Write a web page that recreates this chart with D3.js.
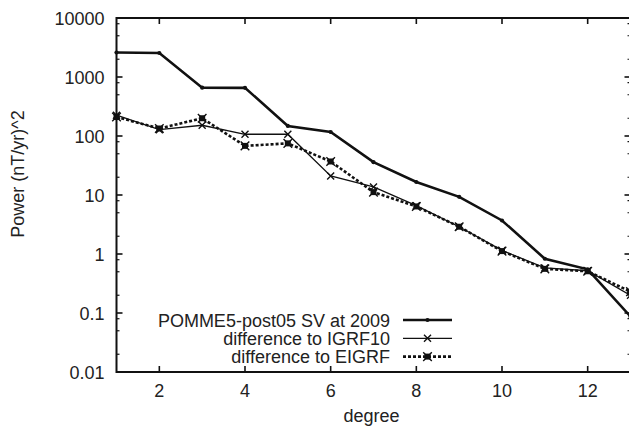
<!DOCTYPE html>
<html>
<head>
<meta charset="utf-8">
<script src="https://cdn.jsdelivr.net/npm/d3@7"></script>
<style>
  body { margin: 0; background: #fff; }
  svg { display: block; font-family: "Liberation Sans", Arial, Helvetica, sans-serif; }
</style>
</head>
<body>
<svg id="chart" width="629" height="427"></svg>
<script>
const degrees = [1, 2, 3, 4, 5, 6, 7, 8, 9, 10, 11, 12, 13];
const pommeSV = [2600, 2550, 660, 655, 148, 117, 36, 16.6, 9.3, 3.7, 0.83, 0.55, 0.087];
const diffIGRF10 = [225, 128, 152, 107, 107, 21, 13.7, 6.6, 2.9, 1.15, 0.58, 0.52, 0.2];
const diffEIGRF = [210, 134, 200, 68, 75, 37, 11.2, 6.4, 2.9, 1.12, 0.56, 0.51, 0.23];
const xTicks = [2, 4, 6, 8, 10, 12];
const yTicks = [0.01, 0.1, 1, 10, 100, 1000, 10000];
const yTickLabels = ["0.01", "0.1", "1", "10", "100", "1000", "10000"];
const seriesNames = ["POMME5-post05 SV at 2009", "difference to IGRF10", "difference to EIGRF"];

const svg = d3.select("#chart");
const mLeft = 116.5, mRight = 630.5, mTop = 18, mBottom = 372;
const fs = 18;

const x = d3.scaleLinear().domain([1, 13]).range([mLeft, mRight]);
const y = d3.scaleLog().domain([0.01, 10000]).range([mBottom, mTop]);

const series = [
  { name: seriesNames[0], values: pommeSV,    width: 2.6, dash: null,  marker: "dot" },
  { name: seriesNames[1], values: diffIGRF10, width: 1.3, dash: null,  marker: "cross" },
  { name: seriesNames[2], values: diffEIGRF,  width: 2.6, dash: "3,2", marker: "box" }
];

// minor ticks on log axis
const minor = [];
for (let e = -2; e < 4; e++) for (const m of [2, 5, 8]) minor.push(m * Math.pow(10, e));

const g = svg.append("g");
minor.forEach(v => {
  g.append("line").attr("x1", mLeft).attr("x2", mLeft + 3).attr("y1", y(v)).attr("y2", y(v))
    .attr("stroke", "#111").attr("stroke-width", 1.2);
  g.append("line").attr("x1", mRight).attr("x2", mRight - 3).attr("y1", y(v)).attr("y2", y(v))
    .attr("stroke", "#111").attr("stroke-width", 1.2);
});
yTicks.forEach((v, i) => {
  g.append("line").attr("x1", mLeft).attr("x2", mLeft + 6).attr("y1", y(v)).attr("y2", y(v))
    .attr("stroke", "#111").attr("stroke-width", 1.6);
  g.append("line").attr("x1", mRight).attr("x2", mRight - 6).attr("y1", y(v)).attr("y2", y(v))
    .attr("stroke", "#111").attr("stroke-width", 1.6);
  g.append("text").attr("x", mLeft - 12).attr("y", y(v) + 6.5)
    .attr("text-anchor", "end").attr("font-size", fs).attr("fill", "#222")
    .text(yTickLabels[i]);
});
xTicks.forEach(v => {
  g.append("line").attr("x1", x(v)).attr("x2", x(v)).attr("y1", mBottom).attr("y2", mBottom - 6)
    .attr("stroke", "#111").attr("stroke-width", 1.6);
  g.append("line").attr("x1", x(v)).attr("x2", x(v)).attr("y1", mTop).attr("y2", mTop + 6)
    .attr("stroke", "#111").attr("stroke-width", 1.6);
  g.append("text").attr("x", x(v)).attr("y", mBottom + 25)
    .attr("text-anchor", "middle").attr("font-size", fs).attr("fill", "#222")
    .text(v);
});

// frame
g.append("rect").attr("x", mLeft).attr("y", mTop).attr("width", mRight - mLeft).attr("height", mBottom - mTop)
  .attr("fill", "none").attr("stroke", "#111").attr("stroke-width", 2);

// axis titles
svg.append("text").attr("x", x(7) - 2).attr("y", mBottom + 50)
  .attr("text-anchor", "middle").attr("font-size", fs).attr("fill", "#222").text("degree");
svg.append("text").attr("transform", `translate(24,174) rotate(-90)`)
  .attr("text-anchor", "middle").attr("font-size", fs).attr("fill", "#222").text("Power (nT/yr)^2");

function drawMarker(sel, type, cx, cy) {
  if (type === "dot") {
    sel.append("circle").attr("cx", cx).attr("cy", cy).attr("r", 2.1).attr("fill", "#111");
  } else if (type === "cross") {
    const s = 3.5;
    sel.append("path").attr("d", `M${cx - s},${cy - s}L${cx + s},${cy + s}M${cx - s},${cy + s}L${cx + s},${cy - s}`)
      .attr("stroke", "#111").attr("stroke-width", 1.4).attr("fill", "none");
  } else {
    const s = 3;
    sel.append("rect").attr("x", cx - s).attr("y", cy - s).attr("width", 2 * s).attr("height", 2 * s).attr("fill", "#111");
    sel.append("path").attr("d", `M${cx - 4.3},${cy - 4.3}L${cx + 4.3},${cy + 4.3}M${cx - 4.3},${cy + 4.3}L${cx + 4.3},${cy - 4.3}`)
      .attr("stroke", "#111").attr("stroke-width", 1.4);
  }
}

const clip = svg.append("clipPath").attr("id", "clip");
clip.append("rect").attr("x", mLeft - 8).attr("y", mTop - 8).attr("width", mRight - mLeft + 16).attr("height", mBottom - mTop + 16);
const plot = svg.append("g").attr("clip-path", "url(#clip)");

const line = d3.line().x((d, i) => x(degrees[i])).y(d => y(d));
series.slice().reverse().forEach(s => {
  plot.append("path").attr("d", line(s.values)).attr("fill", "none")
    .attr("stroke", "#111").attr("stroke-width", s.width)
    .attr("stroke-dasharray", s.dash).attr("stroke-linejoin", "miter");
  s.values.forEach((v, i) => drawMarker(plot, s.marker, x(degrees[i]), y(v)));
});

// legend
const legend = svg.append("g");
series.forEach((s, i) => {
  const ly = 320 + i * 18.3;
  legend.append("text").attr("x", 390).attr("y", ly + 6.5)
    .attr("text-anchor", "end").attr("font-size", fs).attr("fill", "#222").text(s.name);
  legend.append("line").attr("x1", 403).attr("x2", 452).attr("y1", ly).attr("y2", ly)
    .attr("stroke", "#111").attr("stroke-width", s.width).attr("stroke-dasharray", s.dash);
  drawMarker(legend, s.marker, 427.5, ly);
});
</script>
</body>
</html>
